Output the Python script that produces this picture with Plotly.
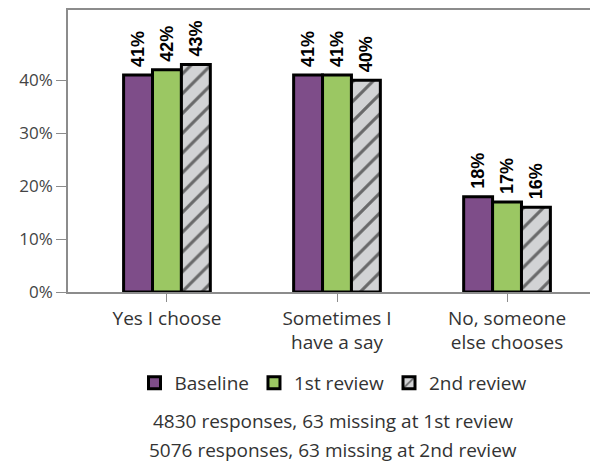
import plotly.graph_objects as go

# categorias e valores (fração)
categorias = ["Yes I choose", "Sometimes I<br>have a say", "No, someone<br>else chooses"]
baseline = [0.41, 0.41, 0.18]
review_1 = [0.42, 0.41, 0.17]
review_2 = [0.43, 0.40, 0.16]
series_names = ["Baseline", "1st review", "2nd review"]
notas = [
    "4830 responses, 63 missing at 1st review",
    "5076 responses, 63 missing at 2nd review",
]

cor_texto = "#333333"
label_font = dict(family="Liberation Sans, Arial, sans-serif", size=18, color="black", weight="bold")
# espaço inicial afasta o rótulo do topo da barra
rotulo = "\u00a0%{y:.0%}"

fig = go.Figure()

# Baseline -> roxo
fig.add_trace(go.Bar(
    x=categorias, y=baseline, name=series_names[0],
    marker=dict(color="#7E4D89", line=dict(color="black", width=3)),
    texttemplate=rotulo, textposition="outside", textangle=-90,
    textfont=label_font, constraintext="none", cliponaxis=False,
))

# 1st review -> verde
fig.add_trace(go.Bar(
    x=categorias, y=review_1, name=series_names[1],
    marker=dict(color="#9BC763", line=dict(color="black", width=3)),
    texttemplate=rotulo, textposition="outside", textangle=-90,
    textfont=label_font, constraintext="none", cliponaxis=False,
))

# 2nd review -> cinza hachurado
fig.add_trace(go.Bar(
    x=categorias, y=review_2, name=series_names[2],
    marker=dict(
        color="#D2D3D5",
        line=dict(color="black", width=3),
        pattern=dict(shape="/", fgcolor="black", bgcolor="#D2D3D5", size=14, solidity=0.22),
    ),
    texttemplate=rotulo, textposition="outside", textangle=-90,
    textfont=label_font, constraintext="none", cliponaxis=False,
))

# notas de rodapé
for i, nota in enumerate(notas):
    fig.add_annotation(
        text=nota, xref="paper", yref="paper", x=0.5, y=-0.456 - 0.106 * i,
        xanchor="center", yanchor="middle", showarrow=False,
        font=dict(size=19, color=cor_texto),
    )

# a página tem margem de 8px no body -> figura começa em (8, 8)
fig.update_layout(
    width=590, height=455,
    margin=dict(l=60, r=0, t=0, b=171),
    paper_bgcolor="white", plot_bgcolor="white",
    font=dict(family="Open Sans, Noto Sans, sans-serif", size=19, color=cor_texto),
    barmode="group", bargap=0.49, bargroupgap=0,
    showlegend=True,
    legend=dict(
        orientation="h", x=0.5, xanchor="center", y=-0.322, yanchor="middle",
        font=dict(size=19, color=cor_texto), traceorder="normal",
    ),
)

fig.update_xaxes(
    range=[-0.582, 2.535],
    showline=True, linecolor="#8c8c8c", linewidth=1.5, mirror=True,
    ticks="outside", ticklen=8, tickcolor="#8c8c8c",
    showgrid=False, tickfont=dict(size=19, color=cor_texto),
)

fig.update_yaxes(
    range=[0, 0.533], tickvals=[0, 0.1, 0.2, 0.3, 0.4], tickformat=".0%",
    showline=True, linecolor="#8c8c8c", linewidth=1.5,
    ticks="outside", ticklen=10, tickcolor="#8c8c8c",
    showgrid=False, zeroline=False, tickfont=dict(size=17, color="#444444"),
)

fig.write_html("out.html")
